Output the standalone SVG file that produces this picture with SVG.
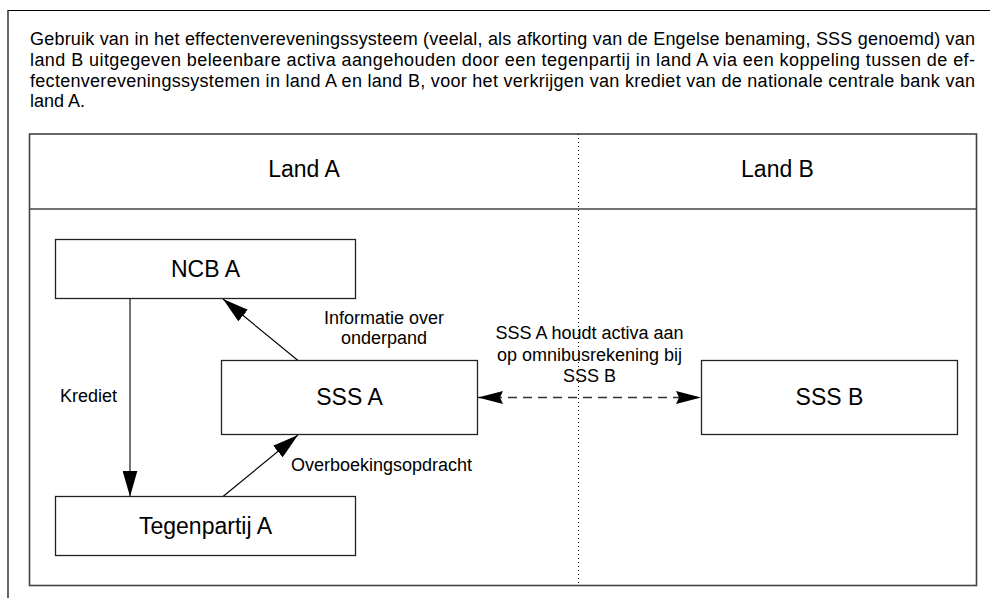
<svg xmlns="http://www.w3.org/2000/svg" width="990" height="598" viewBox="0 0 990 598">
<defs>
<style>
text{font-family:"Liberation Sans",Arial,sans-serif;fill:#000}
.para{font-size:18px}
.hdr{font-size:23px;text-anchor:middle}
.node{font-size:23px;text-anchor:middle}
.lbl{font-size:18px}
.mid{text-anchor:middle}
.box{fill:#fff;stroke:#222;stroke-width:1.3}
.frame{fill:none;stroke:#444;stroke-width:1.6}
.conn{fill:none;stroke:#000;stroke-width:1.1}
</style>
<marker id="ah" markerUnits="userSpaceOnUse" viewBox="0 0 26 15" refX="26" refY="7.5" markerWidth="26" markerHeight="15" orient="auto-start-reverse">
<path d="M0,0 L26,7.5 L0,15 z" fill="#000"/>
</marker>
<marker id="ahd" markerUnits="userSpaceOnUse" viewBox="0 0 25 13" refX="25" refY="6.5" markerWidth="25" markerHeight="13" orient="auto-start-reverse">
<path d="M0,0 L25,6.5 L0,13 L3,6.5 z" fill="#000"/>
</marker>
</defs>
<rect x="0" y="0" width="990" height="598" fill="#fff"/>
<path d="M8,598 V10.5 H990" fill="none" stroke="#000" stroke-width="1.2"/>
<g id="title">
<text class="para" x="30" y="45" textLength="945" lengthAdjust="spacing">Gebruik van in het effectenvereveningssysteem (veelal, als afkorting van de Engelse benaming, SSS genoemd) van</text>
<text class="para" x="30" y="66" textLength="945" lengthAdjust="spacing">land B uitgegeven beleenbare activa aangehouden door een tegenpartij in land A via een koppeling tussen de ef-</text>
<text class="para" x="30" y="86.5" textLength="945" lengthAdjust="spacing">fectenvereveningssystemen in land A en land B, voor het verkrijgen van krediet van de nationale centrale bank van</text>
<text class="para" x="30" y="107">land A.</text>
</g>
<g id="frame">
<rect class="frame" x="29.5" y="134" width="947" height="451.5"/>
<line class="frame" x1="29.5" y1="209" x2="976.5" y2="209"/>
<line x1="578.5" y1="134" x2="578.5" y2="585.5" stroke="#000" stroke-width="1" stroke-dasharray="1 3"/>
<text class="hdr" x="304" y="177">Land A</text>
<text class="hdr" x="777.5" y="177">Land B</text>
</g>
<g id="connectors">
<line class="conn" x1="130" y1="298.5" x2="130" y2="496.5" marker-end="url(#ah)"/>
<line class="conn" x1="298" y1="360.5" x2="223" y2="299" marker-end="url(#ah)"/>
<line class="conn" x1="223" y1="496.5" x2="298" y2="435" marker-end="url(#ah)"/>
<line x1="478" y1="397.5" x2="701" y2="397.5" fill="none" stroke="#333" stroke-width="1.6" stroke-dasharray="9 6" marker-start="url(#ahd)" marker-end="url(#ahd)"/>
<text class="lbl" x="60" y="402">Krediet</text>
<text class="lbl mid" x="384" y="324">Informatie over</text>
<text class="lbl mid" x="384" y="344">onderpand</text>
<text class="lbl" x="291" y="470.5">Overboekingsopdracht</text>
<text class="lbl mid" x="589.5" y="339">SSS A houdt activa aan</text>
<text class="lbl mid" x="589.5" y="360.5">op omnibusrekening bij</text>
<text class="lbl mid" x="589.5" y="382">SSS B</text>
</g>
<g id="ncb-a">
<rect class="box" x="55.5" y="239.5" width="300" height="59"/>
<text class="node" x="205.5" y="277">NCB A</text>
</g>
<g id="sss-a">
<rect class="box" x="221.5" y="360.5" width="256" height="74"/>
<text class="node" x="349.5" y="404.5">SSS A</text>
</g>
<g id="tegenpartij-a">
<rect class="box" x="55.5" y="496.5" width="300" height="59"/>
<text class="node" x="205.5" y="534">Tegenpartij A</text>
</g>
<g id="sss-b">
<rect class="box" x="701.5" y="360.5" width="256" height="74"/>
<text class="node" x="829.5" y="404.5">SSS B</text>
</g>
</svg>
